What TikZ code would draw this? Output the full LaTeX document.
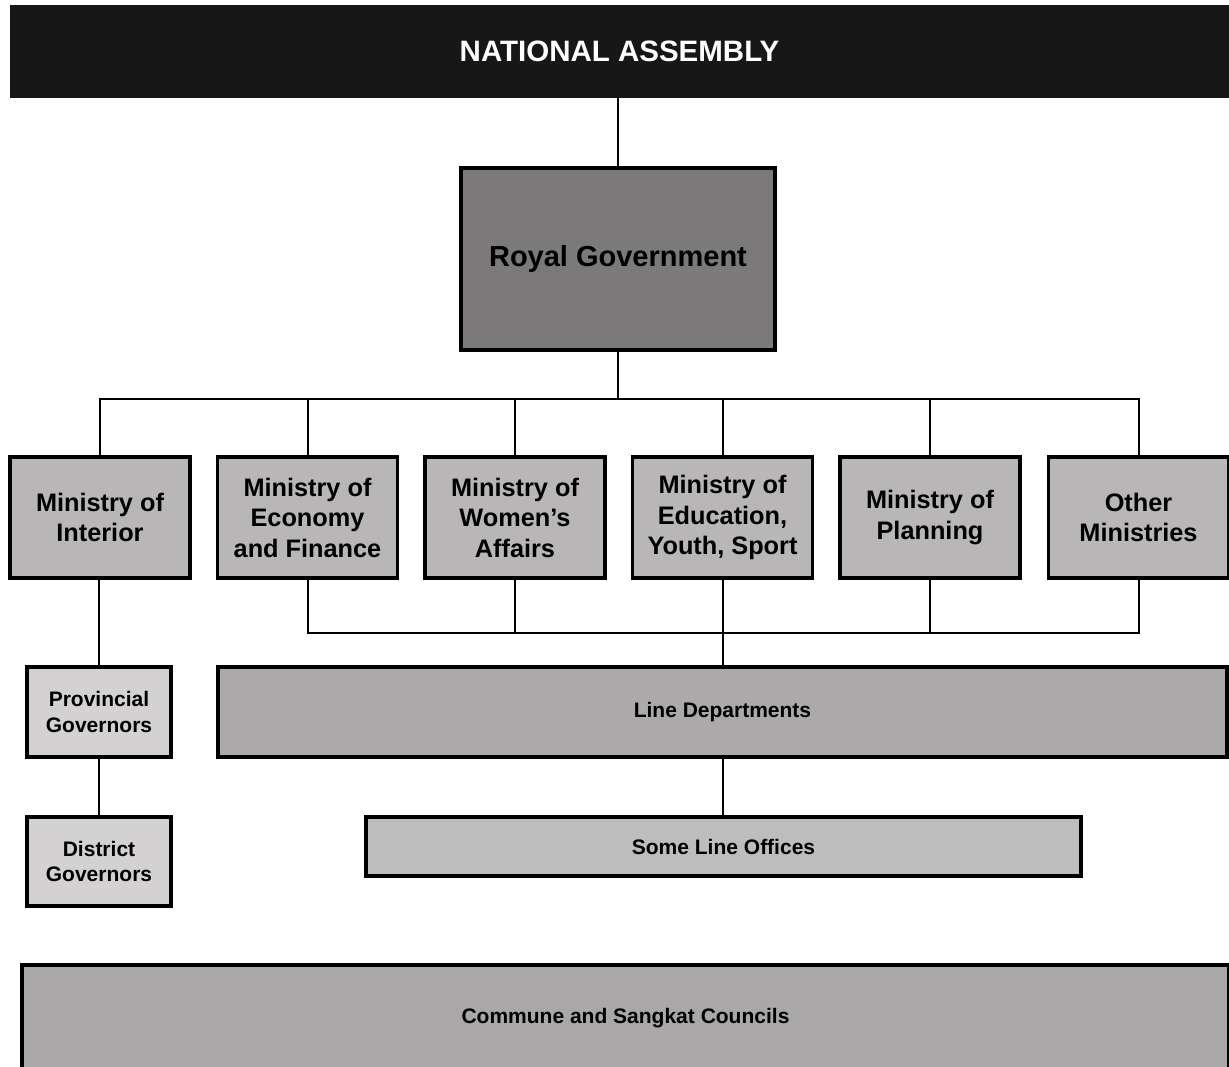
\documentclass[tikz,border=0pt]{standalone}
\usepackage{fontspec}
\setmainfont{Liberation Sans}
\definecolor{barblack}{HTML}{171717}
\definecolor{govgray}{HTML}{7B7979}
\definecolor{mingray}{HTML}{B8B6B6}
\definecolor{govlight}{HTML}{D3D1D1}
\definecolor{deptgray}{HTML}{ABA9A9}
\definecolor{officegray}{HTML}{BEBDBD}
\definecolor{councilgray}{HTML}{A9A7A7}
\tikzset{
  orgbox/.style={draw=black, line width=3.2pt, rectangle, inner sep=2pt,
    align=center, font=\bfseries},
  minbox/.style={orgbox, fill=mingray, minimum width=180pt, minimum height=121pt,
    font=\bfseries\fontsize{25.3}{30.5}\selectfont},
  govbox/.style={orgbox, fill=govlight, minimum width=144pt,
    font=\bfseries\fontsize{21}{25.5}\selectfont},
  widebox/.style={orgbox, font=\bfseries\fontsize{21}{24}\selectfont},
  conn/.style={line width=2pt, draw=black}
}
\begin{document}
\begin{tikzpicture}[x=1pt,y=-1pt]
\useasboundingbox (0,0) rectangle (1229,1067);
\fill[white] (0,0) rectangle (1229,1067);

% top level
\node[fill=barblack, draw=barblack, minimum width=1219pt, minimum height=92pt,
  text=white, font=\bfseries\fontsize{29.5}{34}\selectfont] (na) at (619.5,51) {NATIONAL ASSEMBLY};
\node[orgbox, fill=govgray, minimum width=314pt, minimum height=182pt,
  font=\bfseries\fontsize{29}{34}\selectfont] (rg) at (618,259) {Royal Government};

% ministries
\node[minbox] (m1) at (100,517.5) {Ministry of\\Interior};
\node[minbox] (m2) at (307.5,517.5) {Ministry of\\Economy\\and Finance};
\node[minbox] (m3) at (515,517.5) {Ministry of\\Women's\\Affairs};
\node[minbox] (m4) at (722.5,517.5) {Ministry of\\Education,\\Youth, Sport};
\node[minbox] (m5) at (930,517.5) {Ministry of\\Planning};
\node[minbox] (m6) at (1138.5,517.5) {Other\\Ministries};

% provincial chain
\node[govbox, minimum height=90pt] (pg) at (99,712) {Provincial\\Governors};
\node[govbox, minimum height=89pt] (dg) at (99,861.5) {District\\Governors};

% departments and offices
\node[widebox, fill=deptgray, minimum width=1009pt, minimum height=90pt] (ld) at (722.5,712) {Line Departments};
\node[widebox, fill=officegray, minimum width=715pt, minimum height=59pt] (slo) at (723.5,846.5) {Some Line Offices};
\node[widebox, fill=councilgray, minimum width=1207pt, minimum height=106pt] (csc) at (625.5,1018) {Commune and Sangkat Councils};

% bus points
\coordinate (topbus) at (618,399);
\coordinate (lowbus) at (722.5,633);

% connectors
\draw[conn] (rg.north |- na.south) -- (rg.north);
\draw[conn] (rg.south) -- (topbus);
\draw[conn] (m1.north) |- (topbus) -| (m6.north);
\foreach \m in {m2,m3,m4,m5} \draw[conn] (\m.north) -- (\m.north |- topbus);
\draw[conn] (m2.south) |- (lowbus) -| (m6.south);
\foreach \m in {m3,m4,m5} \draw[conn] (\m.south) -- (\m.south |- lowbus);
\draw[conn] (lowbus) -- (ld.north);
\draw[conn] (ld.south) -- (ld.south |- slo.north);
\draw[conn] (pg.north |- m1.south) -- (pg.north);
\draw[conn] (pg.south) -- (dg.north);
\end{tikzpicture}
\end{document}
